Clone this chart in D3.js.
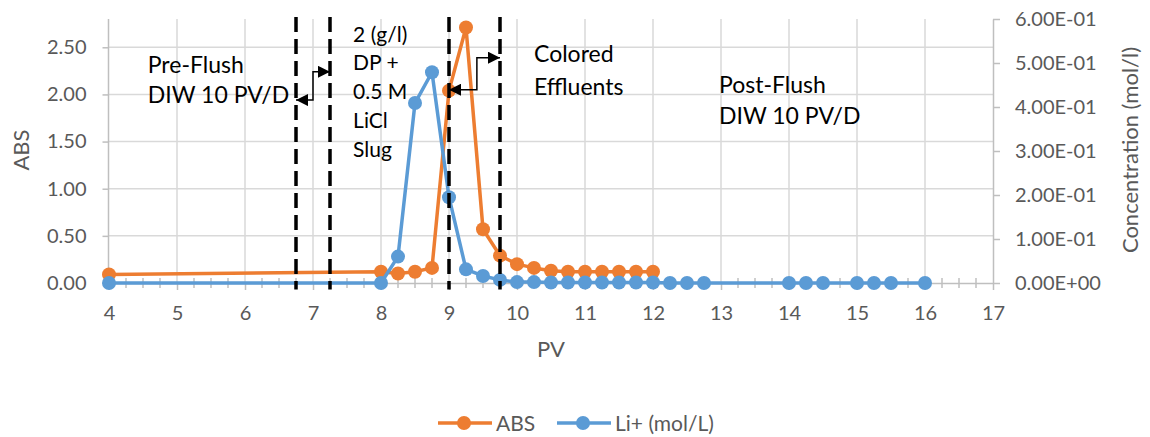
<!DOCTYPE html>
<html>
<head>
<meta charset="utf-8">
<script src="https://cdn.jsdelivr.net/npm/d3@7"></script>
<style>
  html, body { margin: 0; padding: 0; background: #fff; }
  svg { display: block; }
  text { font-family: Lato, "Open Sans", sans-serif; }
</style>
</head>
<body>
<svg id="chart" width="1150" height="437"></svg>
<script>
// ---------- data ----------
const absPV   = [4, 8, 8.25, 8.5, 8.75, 9, 9.25, 9.5, 9.75, 10, 10.25, 10.5, 10.75, 11, 11.25, 11.5, 11.75, 12];
const absVal  = [0.09, 0.12, 0.10, 0.12, 0.16, 2.04, 2.71, 0.57, 0.29, 0.20, 0.16, 0.13, 0.12, 0.12, 0.12, 0.12, 0.12, 0.12];
const liPV    = [4, 8, 8.25, 8.5, 8.75, 9, 9.25, 9.5, 9.75, 10, 10.25, 10.5, 10.75, 11, 11.25, 11.5, 11.75, 12, 12.25, 12.5, 12.75, 14, 14.25, 14.5, 15, 15.25, 15.5, 16];
const liVal   = [0, 0, 0.060, 0.409, 0.479, 0.195, 0.031, 0.016, 0.007, 0.002, 0.002, 0.001, 0.001, 0.001, 0.001, 0.001, 0.001, 0.001, 0, 0, 0, 0, 0, 0, 0, 0, 0, 0];
const xTicks  = [4, 5, 6, 7, 8, 9, 10, 11, 12, 13, 14, 15, 16, 17];
const yLTicks = [0, 0.5, 1.0, 1.5, 2.0, 2.5];
const yRTicks = [0, 0.1, 0.2, 0.3, 0.4, 0.5, 0.6];
const seriesNames = ["ABS", "Li+ (mol/L)"];
const dashedPV = [6.75, 7.25, 9, 9.75];

// annotations (PV, ABS units)
const arrows = [
  { x1: 6.75, y1: 1.94, xm: 7.0, y2: 2.24, x2: 7.25 },
  { x1: 9.0,  y1: 2.05, xm: 9.41, y2: 2.39, x2: 9.75 }
];
const notes = [
  { x: 4.57, y: 2.23, text: "Pre-Flush", size: 23 },
  { x: 4.57, y: 1.91, text: "DIW 10 PV/D", size: 23 },
  { x: 7.59, y: 2.56, text: "2 (g/l)", size: 21 },
  { x: 7.59, y: 2.26, text: "DP +", size: 21 },
  { x: 7.59, y: 1.95, text: "0.5 M", size: 21 },
  { x: 7.59, y: 1.64, text: "LiCl", size: 21 },
  { x: 7.59, y: 1.34, text: "Slug", size: 21 },
  { x: 10.25, y: 2.34, text: "Colored", size: 23 },
  { x: 10.25, y: 1.99, text: "Effluents", size: 23 },
  { x: 12.97, y: 2.02, text: "Post-Flush", size: 23 },
  { x: 12.97, y: 1.69, text: "DIW 10 PV/D", size: 23 }
];

// ---------- setup ----------
const svg = d3.select("#chart");
const ORANGE = "#ED7D31", BLUE = "#5B9BD5", GRID = "#D9D9D9", AXIS = "#BFBFBF", TXT = "#595959";
const x  = d3.scaleLinear().domain([4, 17]).range([109, 993]);
const yL = d3.scaleLinear().domain([0, 2.8]).range([283, 19]);
const yR = d3.scaleLinear().domain([0, 0.6]).range([283, 19]);

// gridlines
const g = svg.append("g");
g.selectAll(".hg").data(yLTicks.filter(d => d > 0)).join("line")
  .attr("x1", x(4)).attr("x2", x(17)).attr("y1", d => yL(d)).attr("y2", d => yL(d))
  .attr("stroke", GRID).attr("stroke-width", 1.5);
g.selectAll(".vg").data(xTicks.filter(d => d > 4 && d < 17)).join("line")
  .attr("x1", d => x(d)).attr("x2", d => x(d)).attr("y1", yL(2.8)).attr("y2", yL(0))
  .attr("stroke", GRID).attr("stroke-width", 1.5);

function styleAxis(sel) {
  sel.select(".domain").attr("stroke", AXIS).attr("stroke-width", 1.5);
  sel.selectAll(".tick line").attr("stroke", AXIS).attr("stroke-width", 1.5);
  sel.selectAll(".tick text").attr("fill", TXT).style("font-size", "20px").style("font-family", "Lato, sans-serif");
}

// x axis
const xa = svg.append("g").attr("transform", `translate(0,${yL(0)})`)
  .call(d3.axisBottom(x).tickValues(xTicks).tickSize(7).tickSizeOuter(0).tickPadding(16).tickFormat(d3.format("d")));
styleAxis(xa);
// minor ticks
const minor = d3.range(4, 17.001, 0.25).filter(d => Math.abs(d - Math.round(d)) > 0.01);
svg.append("g").selectAll("line").data(minor).join("line")
  .attr("x1", d => x(d)).attr("x2", d => x(d)).attr("y1", yL(0) - 5).attr("y2", yL(0) + 5)
  .attr("stroke", AXIS).attr("stroke-width", 1.5);

// left axis
const ya = svg.append("g").attr("transform", `translate(${x(4) - 0.5},0)`)
  .call(d3.axisLeft(yL).tickValues(yLTicks).tickSize(6).tickSizeOuter(0).tickPadding(16).tickFormat(d3.format(".2f")));
styleAxis(ya);
ya.select(".domain").attr("d", `M0,${yL(2.8)}V${yL(0)}`);

// right axis
function sci(v) {
  if (v === 0) return "0.00E+00";
  const e = Math.floor(Math.log10(v) + 1e-9);
  const m = v / Math.pow(10, e);
  return m.toFixed(2) + "E" + (e < 0 ? "-" : "+") + String(Math.abs(e)).padStart(2, "0");
}
const yra = svg.append("g").attr("transform", `translate(${x(17)},0)`)
  .call(d3.axisRight(yR).tickValues(yRTicks).tickSize(7).tickSizeOuter(0).tickPadding(15).tickFormat(sci));
styleAxis(yra);

// axis titles
svg.append("text").attr("transform", `translate(29,150) rotate(-90)`).attr("text-anchor", "middle")
  .attr("fill", TXT).style("font-size", "22px").text("ABS");
svg.append("text").attr("transform", `translate(1138,150) rotate(-90)`).attr("text-anchor", "middle")
  .attr("fill", TXT).style("font-size", "22px").text("Concentration (mol/l)");
svg.append("text").attr("x", (x(4) + x(17)) / 2).attr("y", 357).attr("text-anchor", "middle")
  .attr("fill", TXT).style("font-size", "22px").text("PV");

// series
const absData = absPV.map((p, i) => [p, absVal[i]]);
const liData  = liPV.map((p, i) => [p, liVal[i]]);
svg.append("path").datum(absData)
  .attr("d", d3.line().x(d => x(d[0])).y(d => yL(d[1])))
  .attr("fill", "none").attr("stroke", ORANGE).attr("stroke-width", 3.5).attr("stroke-linejoin", "round");
svg.append("g").selectAll("circle").data(absData).join("circle")
  .attr("cx", d => x(d[0])).attr("cy", d => yL(d[1])).attr("r", 7).attr("fill", ORANGE);
svg.append("path").datum(liData)
  .attr("d", d3.line().x(d => x(d[0])).y(d => yR(d[1])))
  .attr("fill", "none").attr("stroke", BLUE).attr("stroke-width", 3.5).attr("stroke-linejoin", "round");
svg.append("g").selectAll("circle").data(liData).join("circle")
  .attr("cx", d => x(d[0])).attr("cy", d => yR(d[1])).attr("r", 7).attr("fill", BLUE);

// dashed lines
svg.append("g").selectAll("line").data(dashedPV).join("line")
  .attr("x1", d => x(d)).attr("x2", d => x(d)).attr("y1", yL(2.82)).attr("y2", yL(-0.07))
  .attr("stroke", "#000").attr("stroke-width", 3.5).attr("stroke-dasharray", "15,7");

// elbow arrows
const defs = svg.append("defs");
defs.append("marker").attr("id", "tri").attr("viewBox", "0 0 10 10").attr("refX", 10).attr("refY", 5)
  .attr("markerWidth", 13).attr("markerHeight", 12).attr("markerUnits", "userSpaceOnUse").attr("orient", "auto-start-reverse")
  .append("path").attr("d", "M0,0L10,5L0,10Z").attr("fill", "#000");
svg.append("g").selectAll("path").data(arrows).join("path")
  .attr("d", a => `M${x(a.x1)},${yL(a.y1)}H${x(a.xm)}V${yL(a.y2)}H${x(a.x2)}`)
  .attr("fill", "none").attr("stroke", "#000").attr("stroke-width", 1.5)
  .attr("marker-start", "url(#tri)").attr("marker-end", "url(#tri)");

// notes
svg.append("g").selectAll("text").data(notes).join("text")
  .attr("x", d => x(d.x)).attr("y", d => yL(d.y)).attr("fill", "#000")
  .style("font-size", d => d.size + "px").text(d => d.text);

// legend
const leg = svg.append("g");
const legItems = [
  { name: seriesNames[0], color: ORANGE, x0: 438 },
  { name: seriesNames[1], color: BLUE, x0: 557 }
];
legItems.forEach(it => {
  leg.append("line").attr("x1", it.x0).attr("x2", it.x0 + 54).attr("y1", 423).attr("y2", 423)
    .attr("stroke", it.color).attr("stroke-width", 3.5);
  leg.append("circle").attr("cx", it.x0 + 26).attr("cy", 423).attr("r", 7).attr("fill", it.color);
  leg.append("text").attr("x", it.x0 + 58).attr("y", 431).attr("fill", TXT).style("font-size", "21px").text(it.name);
});
</script>
</body>
</html>
